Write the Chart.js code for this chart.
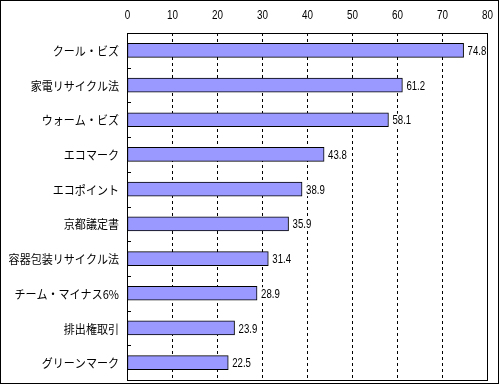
<!DOCTYPE html>
<html>
<head>
  <meta charset="utf-8" />
  <script src="https://cdn.jsdelivr.net/npm/chart.js@4.4.0/dist/chart.umd.min.js"></script>
  <style>
    body{margin:0;background:#fff;}
    #wrap{width:500px;height:385px;}
  </style>
</head>
<body>
<div id="wrap"><canvas id="c" width="500" height="385"></canvas></div>
<script>
// data
const categories = ['クール・ビズ','家電リサイクル法','ウォーム・ビズ','エコマーク','エコポイント','京都議定書','容器包装リサイクル法','チーム・マイナス6%','排出権取引','グリーンマーク'];
const values = [74.8, 61.2, 58.1, 43.8, 38.9, 35.9, 31.4, 28.9, 23.9, 22.5];
const xTicks = [0,10,20,30,40,50,60,70,80];

const FONT = "'Noto Sans CJK JP', 'Liberation Sans', sans-serif";
const NUMFONT = "'Liberation Sans', sans-serif";

// squeezed text, closer to the narrow bitmap font of the original
function narrowText(ctx, txt, x, y, align, sx, bg){
  ctx.save();
  ctx.translate(x, y);
  ctx.scale(sx, 1);
  ctx.textAlign = align;
  if(bg){
    const w = ctx.measureText(txt).width;
    ctx.fillStyle = bg;
    ctx.fillRect(-1, -7, w + 2, 13);
    ctx.fillStyle = '#000';
  }
  ctx.fillText(txt, 0, 0);
  ctx.restore();
}

// texts, plot border, inner category ticks, frame
const extras = {
  id:'extras',
  afterDraw(chart){
    const ctx = chart.ctx, a = chart.chartArea;
    const xs = chart.scales.x, ys = chart.scales.y;
    ctx.save();
    ctx.fillStyle = '#000';
    ctx.textBaseline = 'middle';
    // category labels
    ctx.font = '12px ' + FONT;
    categories.forEach((c, i) => narrowText(ctx, c, a.left - 8, ys.getPixelForValue(i) + 1, 'right', 0.92));
    // x tick labels
    ctx.font = '13px ' + NUMFONT;
    xTicks.forEach(v => narrowText(ctx, String(v), xs.getPixelForValue(v) + 0.5, 15, 'center', 0.76));
    // value labels, on a white patch that hides the grid
    const meta = chart.getDatasetMeta(0);
    meta.data.forEach((bar, i) => {
      narrowText(ctx, values[i].toFixed(1), bar.x + 4, bar.y + 1, 'left', 0.74, '#fff');
    });

    ctx.strokeStyle = '#000'; ctx.lineWidth = 1; ctx.setLineDash([]);
    // plot border
    ctx.strokeRect(Math.round(a.left)+0.5, Math.round(a.top)+0.5, Math.round(a.right-a.left), Math.round(a.bottom-a.top));
    // small ticks between categories
    const step = (a.bottom - a.top) / categories.length;
    ctx.beginPath();
    for(let i=1;i<categories.length;i++){
      const y = Math.round(ys.getPixelForValue(i) - step/2) + 0.5;
      ctx.moveTo(a.left, y); ctx.lineTo(a.left+4, y);
    }
    ctx.stroke();
    // outer frame
    ctx.strokeRect(0.5, 0.5, 498, 383);
    ctx.restore();
  }
};

new Chart(document.getElementById('c').getContext('2d'), {
  type:'bar',
  data:{
    labels: categories,
    datasets:[{
      data: values,
      backgroundColor:'#9999ff',
      borderColor:'#000',
      borderWidth:1,
      borderSkipped:false,
      barThickness:14
    }]
  },
  options:{
    indexAxis:'y',
    responsive:false,
    animation:false,
    devicePixelRatio:1,
    layout:{ padding:{ left:0, top:0, right:13, bottom:5 } },
    plugins:{ legend:{ display:false }, tooltip:{ enabled:false } },
    scales:{
      x:{
        position:'top',
        min:0, max:80,
        afterBuildTicks: s => { s.ticks = xTicks.map(v => ({ value:v })); },
        afterFit: s => { s.height = 33; s.paddingLeft = 0; s.paddingRight = 0; },
        grid:{ color:'#000', drawTicks:false, lineWidth:1 },
        border:{ display:false, dash:[3,3] },
        ticks:{ display:false }
      },
      y:{
        afterFit: s => { s.width = 127; s.paddingTop = 0; s.paddingBottom = 0; },
        grid:{ display:false, drawTicks:false },
        border:{ display:false },
        ticks:{ display:false }
      }
    }
  },
  plugins:[extras]
});
</script>
</body>
</html>
